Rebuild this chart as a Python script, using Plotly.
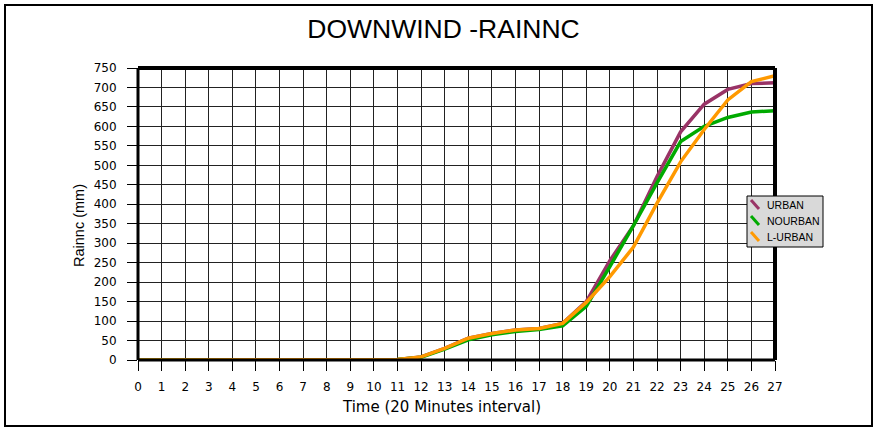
import plotly.graph_objects as go

time = list(range(28))
urban = [0, 0, 0, 0, 0, 0, 0, 0, 0, 0, 0, 1, 8, 30, 56, 68, 77, 81, 94, 150, 255, 345, 471, 586, 657, 695, 710, 712]
nourban = [0, 0, 0, 0, 0, 0, 0, 0, 0, 0, 0, 1, 7, 28, 52, 65, 73, 78, 88, 138, 240, 345, 455, 561, 600, 623, 637, 640]
lurban = [0, 0, 0, 0, 0, 0, 0, 0, 0, 0, 0, 1, 8, 30, 56, 68, 77, 81, 94, 148, 214, 290, 403, 509, 592, 668, 715, 730]

names = ["URBAN", "NOURBAN", "L-URBAN"]
colors = ["#993366", "#00aa00", "#ff9900"]

W, H = 878, 429
L, R, T, B = 138, 103, 68, 69
pw = W - L - R
ph = H - T - B


def px(x):
    return (x - L) / pw


def py(y):
    return (H - B - y) / ph


fig = go.Figure()
for name, ys, col in zip(names, [urban, nourban, lurban], colors):
    fig.add_trace(go.Scatter(x=time, y=ys, name=name, mode="lines",
                             line=dict(color=col, width=3.5), showlegend=False))

fig.update_layout(
    width=W, height=H,
    margin=dict(l=L, r=R, t=T, b=B),
    paper_bgcolor="white", plot_bgcolor="white",
    title=dict(text="DOWNWIND -RAINNC", x=px(443.5) * pw / W + L / W, xanchor="center",
               y=1 - 29 / H, yanchor="middle",
               font=dict(family="Liberation Sans, Arial", size=26.5, color="black")),
    font=dict(family="DejaVu Sans", size=11, color="black"),
    showlegend=False,
)
fig.update_xaxes(range=[0, 27], tickmode="linear", tick0=0, dtick=1,
                 showgrid=True, gridcolor="#222222", gridwidth=1,
                 showline=False, zeroline=False,
                 ticks="outside", ticklen=10, tickcolor="black", tickwidth=1,
                 ticklabelstandoff=6,
                 tickfont=dict(family="DejaVu Sans", size=12))
fig.update_yaxes(range=[0, 750], tickmode="linear", tick0=0, dtick=50,
                 showgrid=True, gridcolor="#222222", gridwidth=1,
                 showline=False, zeroline=False,
                 ticks="outside", ticklen=10, tickcolor="black", tickwidth=1,
                 ticklabelstandoff=8,
                 tickfont=dict(family="DejaVu Sans", size=12))

# axis titles
fig.add_annotation(text="Time (20 Minutes interval)", xref="paper", yref="paper",
                   x=px(441), y=py(407), xanchor="center", yanchor="middle",
                   showarrow=False, font=dict(family="DejaVu Sans", size=15, color="black"))
fig.add_annotation(text="Rainnc (mm)", xref="paper", yref="paper",
                   x=px(79), y=py(226), xanchor="center", yanchor="middle", textangle=-90,
                   showarrow=False, font=dict(family="Liberation Sans, Arial", size=14.5, color="black"))

# plot area frame
fig.add_shape(type="line", xref="paper", yref="paper", x0=0, x1=1, y0=1, y1=1,
              line=dict(color="black", width=4))
fig.add_shape(type="line", xref="paper", yref="paper", x0=1, x1=1, y0=0, y1=1,
              line=dict(color="black", width=4))
fig.add_shape(type="line", xref="paper", yref="paper", x0=0, x1=0, y0=0, y1=1,
              line=dict(color="black", width=3))
fig.add_shape(type="line", xref="paper", yref="paper", x0=0, x1=1, y0=0, y1=0,
              line=dict(color="black", width=3))

# custom legend
fig.add_shape(type="rect", xref="paper", yref="paper",
              x0=px(747), x1=px(823), y0=py(247), y1=py(196),
              line=dict(color="black", width=1), fillcolor="#d9d9d9", layer="above")
for i, (name, col) in enumerate(zip(names, colors)):
    yc = 205 + 16 * i
    fig.add_shape(type="line", xref="paper", yref="paper",
                  x0=px(751), x1=px(759), y0=py(yc - 5), y1=py(yc + 4),
                  line=dict(color=col, width=3), layer="above")
    fig.add_annotation(text=name, xref="paper", yref="paper",
                       x=px(765), y=py(yc), xanchor="left", yanchor="middle",
                       showarrow=False,
                       font=dict(family="Liberation Sans, Arial", size=10.5, color="black"))

# outer border
fig.add_shape(type="rect", xref="paper", yref="paper",
              x0=px(5), x1=px(872), y0=py(426), y1=py(5),
              line=dict(color="black", width=2), fillcolor="rgba(0,0,0,0)", layer="above")

fig.write_html("out.html", config={"displayModeBar": False},
               post_script="document.body.style.margin='0';")
